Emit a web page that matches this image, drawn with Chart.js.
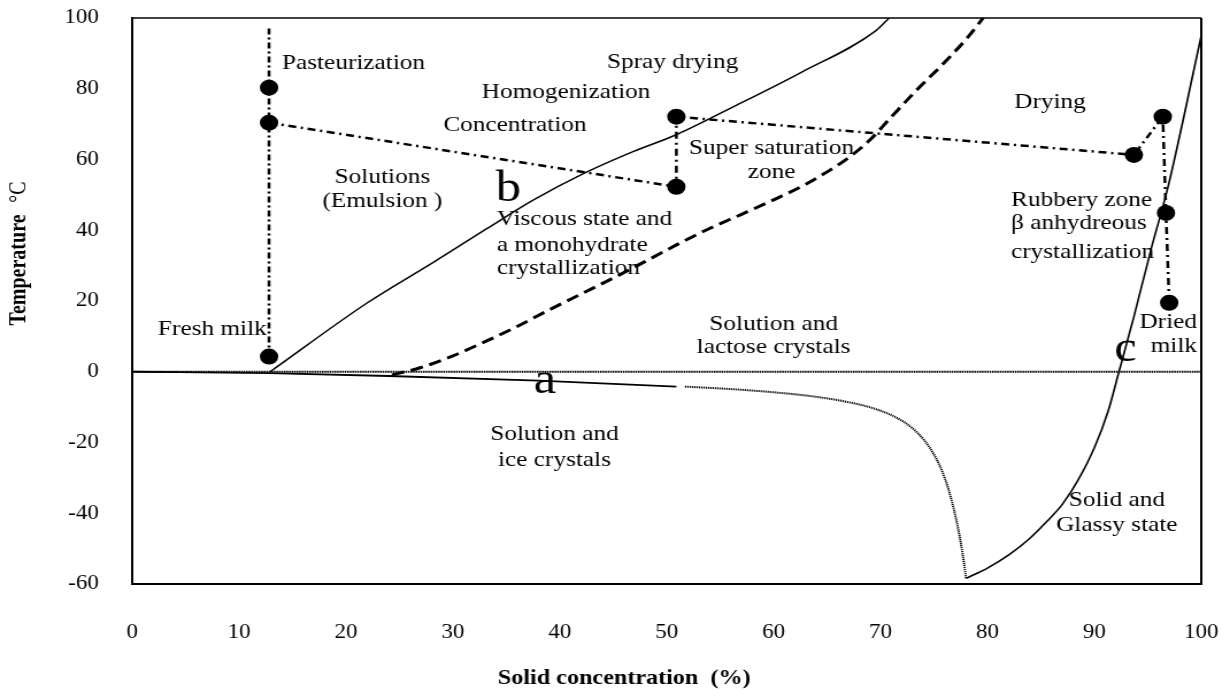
<!DOCTYPE html>
<html>
<head>
<meta charset="utf-8">
<title>Milk state diagram</title>
<script src="https://cdn.jsdelivr.net/npm/chart.js@4.4.1/dist/chart.umd.min.js"></script>
<style>
  html, body { margin: 0; padding: 0; background: #fff; }
</style>
</head>
<body>
<!-- drawn at 1070 wide and stretched to 1230, like the original figure -->
<canvas id="stateChart" width="1070" height="697" style="width:1230px;height:697px"></canvas>
<script>
// x = solid concentration (%), y = temperature (°C)
const xTicks = [0, 10, 20, 30, 40, 50, 60, 70, 80, 90, 100];
const yTicks = [-60, -40, -20, 0, 20, 40, 60, 80, 100];

// line a: freezing curve, solid part then dotted tail
const freezeX = [0, 12.8, 24, 38, 50.9];
const freezeT = [0, -0.4, -1.2, -2.5, -4.2];
const freezeTailX = [51.7, 56, 60, 64, 67, 69.5, 71.5, 73, 74.2, 75.2, 76, 76.7, 77.3, 77.7, 78];
const freezeTailT = [-4.2, -4.9, -5.8, -7.1, -8.6, -10.5, -13, -16, -19.8, -24.5, -30, -37, -45, -52, -58.4];

// line b
const bX = [12.9, 22, 28.2, 33.2, 37.5, 42.2, 46.9, 50.9, 56.3, 62.5, 69.6, 70.8];
const bT = [0, 19.5, 31, 40.5, 48.5, 56, 62.3, 67, 75, 84.5, 96.5, 100];

// line c: glass transition
const glassX = [78, 80, 82, 84, 85.5, 87, 88.5, 90, 91.3, 92.3, 93.7, 95.3, 96.9, 100];
const glassT = [-58.4, -55.5, -51.8, -47, -42.5, -37.5, -30.5, -21.5, -11, 0, 15.6, 34.6, 52.4, 95];

// lactose solubility (dashed)
const solX = [24.3, 27, 30, 33, 36, 39, 42, 45, 48, 51, 54, 57, 60, 63, 65, 67, 69, 71, 73.5, 76, 78, 79.6];
const solT = [-0.9, 1.2, 4.5, 8.5, 12.8, 17.5, 22, 26.5, 31.2, 36, 40.5, 44.5, 48.6, 53, 56.5, 60.5, 65.5, 72, 80, 87.5, 94, 100];

// 0 °C reference line
const zeroX = [0, 100];
const zeroT = [0, 0];

// process path
const heatX = [12.8, 12.8];
const heatT = [4.3, 97.2];
const routeX = [12.8, 50.9, 50.9, 93.7, 96.4, 96.7, 97];
const routeT = [70.4, 52.3, 72.1, 61.3, 72.1, 44.9, 19.5];
const stopX = [12.8, 12.8, 12.8, 50.9, 50.9, 93.7, 96.4, 96.7, 97];
const stopT = [80.3, 70.4, 4.3, 52.3, 72.1, 61.3, 72.1, 44.9, 19.5];

// region labels, placed in data units
const regionLabels = [
  { text: "Pasteurization", x: 14.0, y: 87.3, align: "left" },
  { text: "Spray drying", x: 44.4, y: 87.6, align: "left" },
  { text: "Homogenization", x: 32.7, y: 78.9, align: "left" },
  { text: "Concentration", x: 29.1, y: 69.8, align: "left" },
  { text: "Drying", x: 82.5, y: 76.3, align: "left" },
  { text: "Super saturation", x: 59.8, y: 63.3 },
  { text: "zone", x: 59.8, y: 56.5 },
  { text: "Solutions", x: 23.4, y: 55.1 },
  { text: "(Emulsion )", x: 23.4, y: 48.1 },
  { text: "Viscous state and", x: 34.1, y: 43, align: "left" },
  { text: "a monohydrate", x: 34.1, y: 35.9, align: "left" },
  { text: "crystallization", x: 34.1, y: 29.4, align: "left" },
  { text: "Rubbery zone", x: 82.2, y: 48.6, align: "left" },
  { text: "β anhydreous", x: 82.2, y: 42.1, align: "left" },
  { text: "crystallization", x: 82.2, y: 33.9, align: "left" },
  { text: "Fresh milk", x: 2.4, y: 11.9, align: "left" },
  { text: "Solution and", x: 60, y: 13.3 },
  { text: "lactose crystals", x: 60, y: 6.8 },
  { text: "Dried", x: 99.6, y: 14.1, align: "right" },
  { text: "milk", x: 99.6, y: 7.1, align: "right" },
  { text: "Solution and", x: 39.5, y: -17.8 },
  { text: "ice crystals", x: 39.5, y: -24.9 },
  { text: "Solid and", x: 92.1, y: -36.2 },
  { text: "Glassy state", x: 92.1, y: -43.5 },
  { text: "b", x: 35.2, y: 51.4, size: 44 },
  { text: "a", x: 38.6, y: -2.8, size: 44 },
  { text: "c", x: 92.9, y: 6.2, size: 44 }
];

const FONT = '"Liberation Serif", "Times New Roman", serif';

function pts(xs, ys) {
  return xs.map((x, i) => ({ x: x, y: ys[i] }));
}

function line(data, width, dash, smooth) {
  return {
    data: data,
    showLine: true,
    borderColor: "#000",
    borderWidth: width,
    borderDash: dash,
    pointRadius: 0,
    cubicInterpolationMode: smooth ? "monotone" : "default",
    tension: 0
  };
}

// keep the tick padding from growing the chart margins
function fixSize(prop, value) {
  return s => {
    s[prop] = value;
    s.paddingLeft = s.paddingRight = s.paddingTop = s.paddingBottom = 0;
  };
}

// top and right frame lines + free text
const labelPlugin = {
  id: "regionLabels",
  afterDatasetsDraw(chart) {
    const { ctx, scales, chartArea: area } = chart;
    ctx.save();
    ctx.strokeStyle = "#000";
    ctx.lineWidth = 1.5;
    ctx.beginPath();
    ctx.moveTo(area.left, area.top);
    ctx.lineTo(area.right, area.top);
    ctx.stroke();
    ctx.lineWidth = 2;
    ctx.beginPath();
    ctx.moveTo(area.right, area.top);
    ctx.lineTo(area.right, area.bottom);
    ctx.stroke();

    ctx.fillStyle = "#000";
    ctx.textBaseline = "middle";
    regionLabels.forEach(l => {
      ctx.font = `${l.size || 22}px ${FONT}`;
      ctx.textAlign = l.align || "center";
      ctx.fillText(l.text, scales.x.getPixelForValue(l.x), scales.y.getPixelForValue(l.y));
    });

    // axis titles
    ctx.textAlign = "center";
    ctx.font = `bold 21px ${FONT}`;
    ctx.fillText("Solid concentration  (%)", 543, 679);

    ctx.translate(17, 270);
    ctx.rotate(-Math.PI / 2);
    ctx.font = `bold 20px ${FONT}`;
    ctx.fillText("Temperature", 0, 0);
    ctx.font = `20px ${FONT}`;
    ctx.fillText("°C", 78, 0);
    ctx.restore();
  }
};

function initChart() {
  const ctx = document.getElementById("stateChart").getContext("2d");
  const tickFont = { family: FONT, size: 20 };

  new Chart(ctx, {
    type: "scatter",
    data: {
      datasets: [
        line(pts(zeroX, zeroT), 2, [1.5, 0.7], false),
        line(pts(freezeX, freezeT), 1.8, [], true),
        line(pts(freezeTailX, freezeTailT), 2, [1.2, 0.8], true),
        line(pts(bX, bT), 1.5, [], true),
        line(pts(glassX, glassT), 1.6, [], true),
        line(pts(solX, solT), 3, [11, 6], true),
        line(pts(heatX, heatT), 2.5, [6, 3, 2, 3], false),
        line(pts(routeX, routeT), 2.5, [7, 4, 2, 4], false),
        {
          data: pts(stopX, stopT),
          showLine: false,
          pointRadius: 8,
          pointBackgroundColor: "#000",
          pointBorderColor: "#000",
          pointBorderWidth: 0
        }
      ]
    },
    options: {
      responsive: false,
      animation: false,
      events: [],
      layout: { padding: { top: 18, right: 25, left: 0, bottom: 0 } },
      plugins: {
        legend: { display: false },
        tooltip: { enabled: false }
      },
      scales: {
        x: {
          type: "linear",
          position: "bottom",
          min: 0,
          max: 100,
          afterBuildTicks: s => { s.ticks = xTicks.map(v => ({ value: v })); },
          afterFit: fixSize("height", 113),
          grid: { display: false, drawTicks: false },
          border: { color: "#000", width: 2 },
          ticks: { font: tickFont, color: "#000", padding: 37, maxRotation: 0 }
        },
        y: {
          type: "linear",
          position: "left",
          min: -60,
          max: 100,
          afterBuildTicks: s => { s.ticks = yTicks.map(v => ({ value: v })); },
          afterFit: fixSize("width", 115),
          grid: { display: false, drawTicks: false },
          border: { color: "#000", width: 2 },
          ticks: { font: tickFont, color: "#000", padding: 29 }
        }
      }
    },
    plugins: [labelPlugin]
  });
}

document.addEventListener("DOMContentLoaded", initChart);
</script>
</body>
</html>
